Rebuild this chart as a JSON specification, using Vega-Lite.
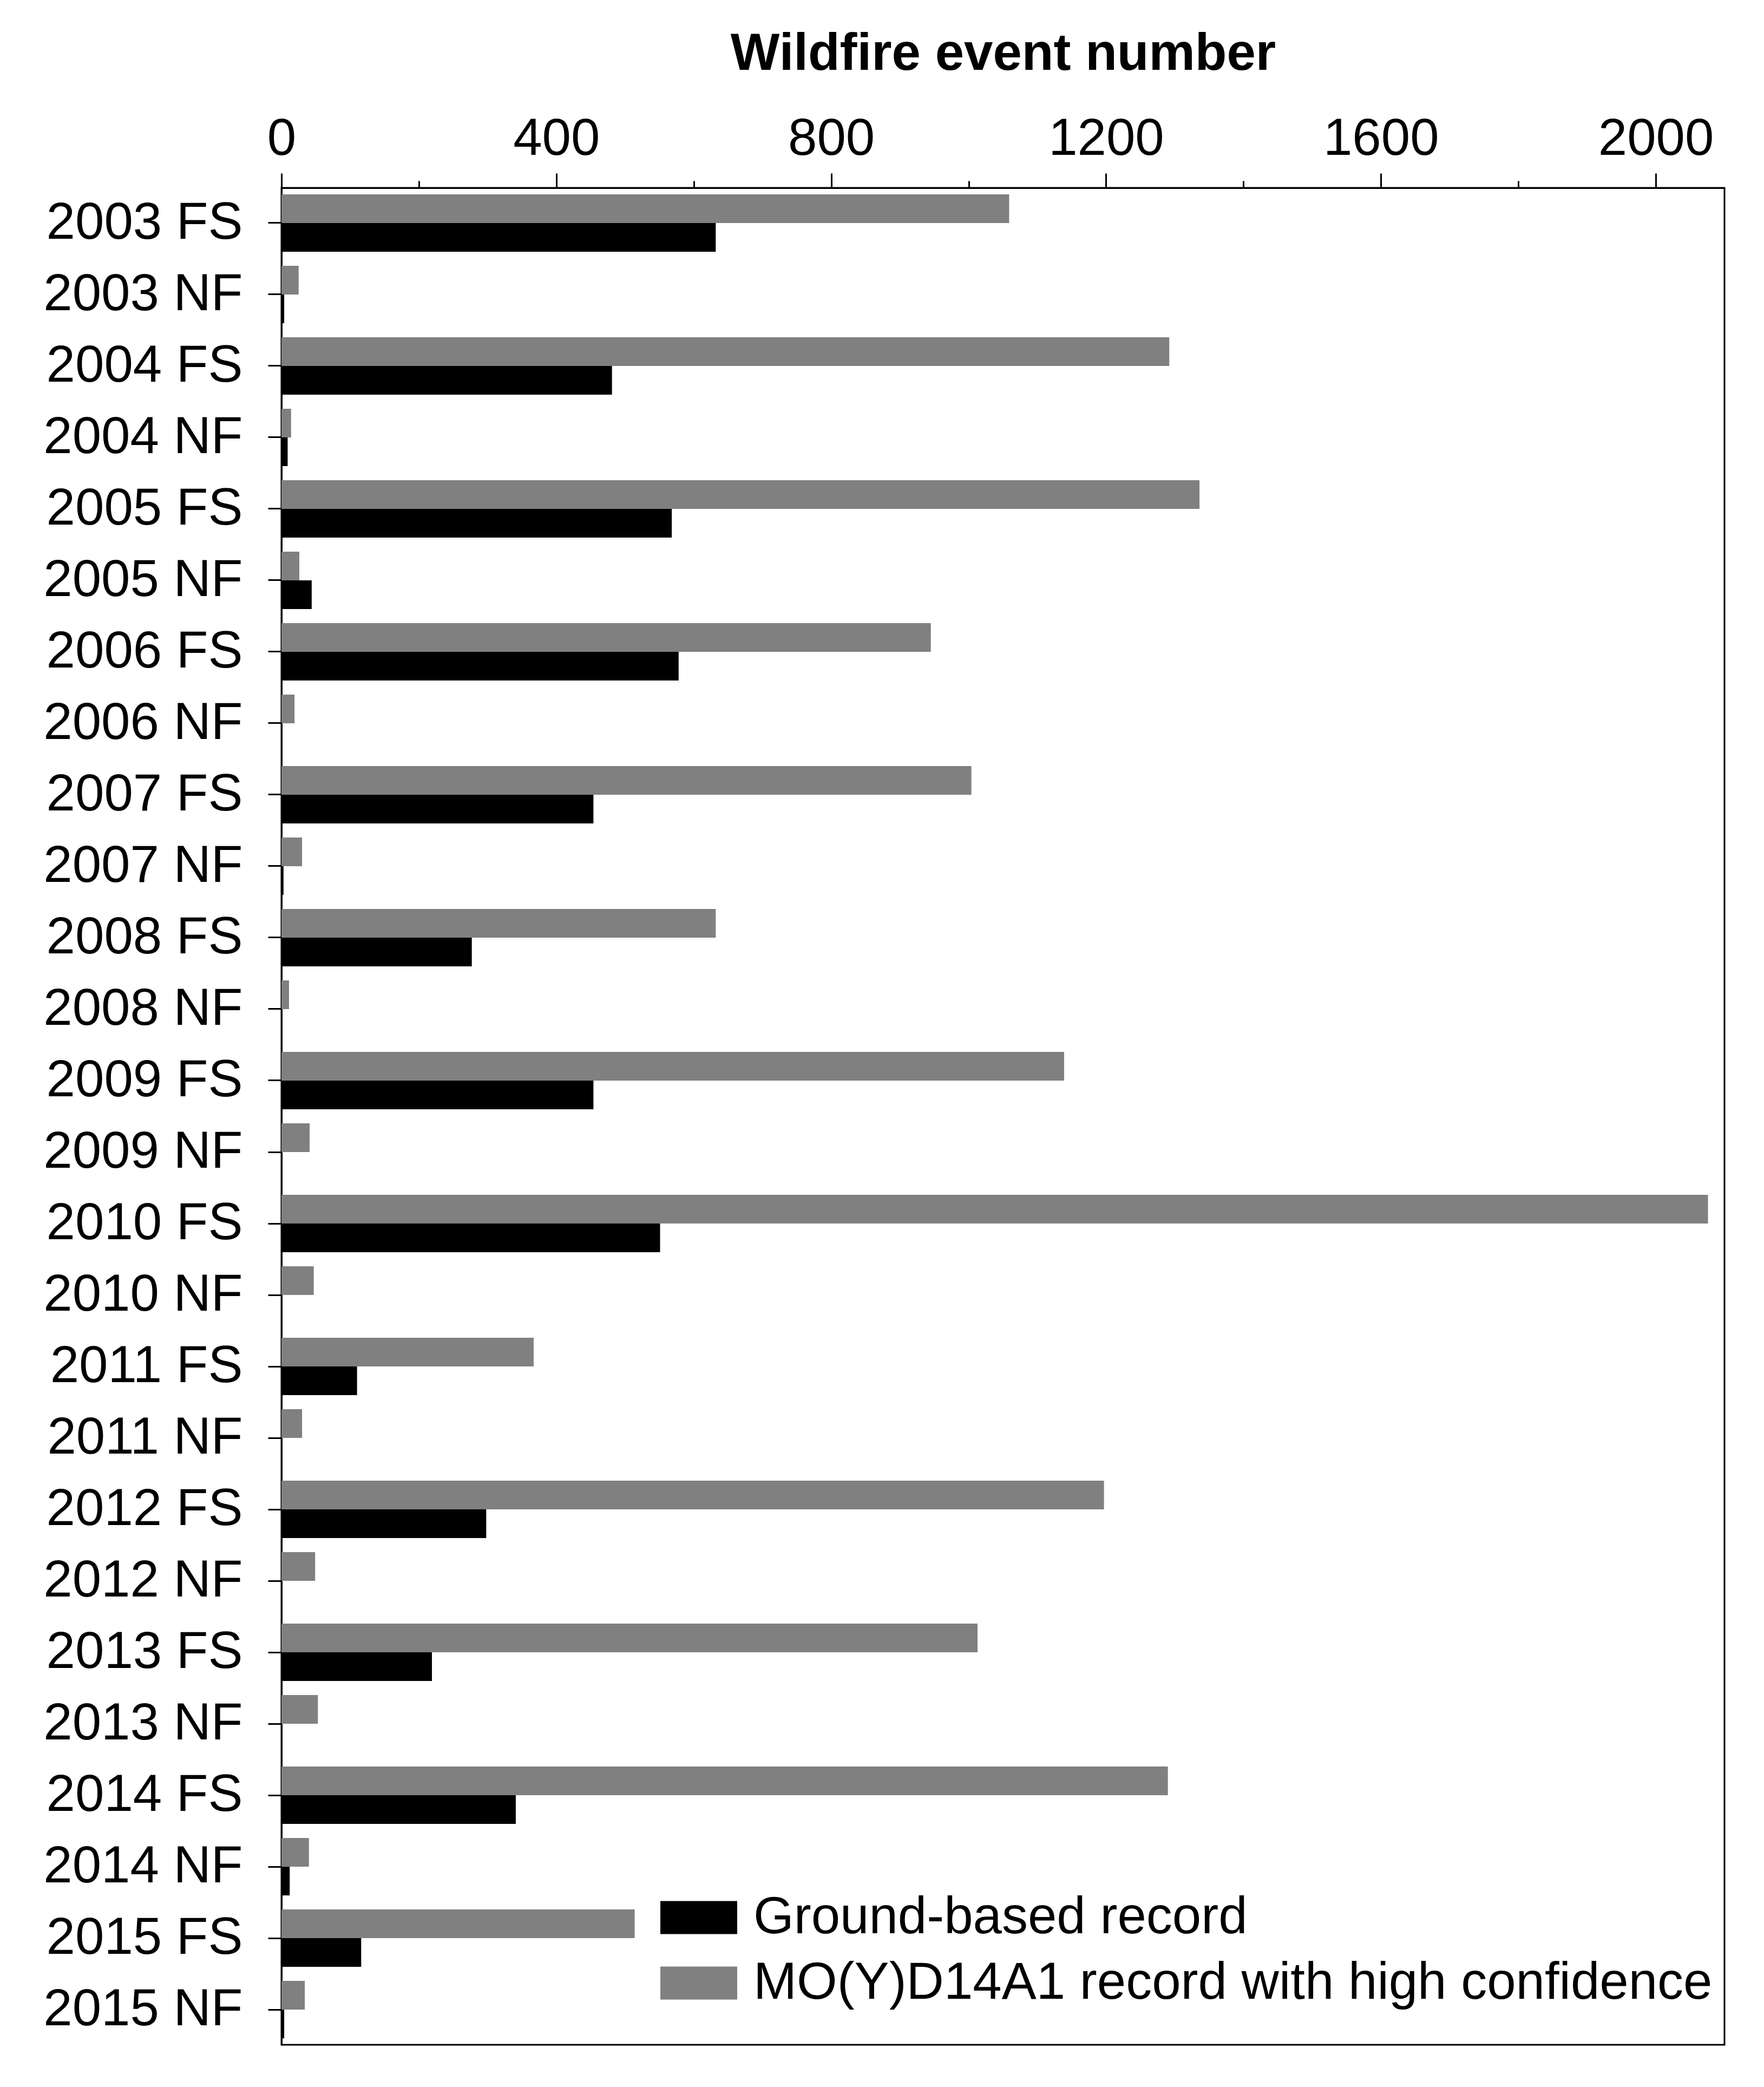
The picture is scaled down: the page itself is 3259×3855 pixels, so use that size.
{
  "$schema": "https://vega.github.io/schema/vega-lite/v6.json",
  "width": 2666,
  "height": 3430,
  "autosize": {"type": "none"},
  "padding": {"left": 520, "top": 347, "right": 73, "bottom": 78},
  "background": "white",
  "config": {
    "font": "Liberation Sans",
    "view": {"stroke": "black", "strokeWidth": 3}
  },
  "data": {
    "values": [
      {"category": "2003 FS", "source": "MO(Y)D14A1 record with high confidence", "count": 1059},
      {"category": "2003 FS", "source": "Ground-based record", "count": 632},
      {"category": "2003 NF", "source": "MO(Y)D14A1 record with high confidence", "count": 25},
      {"category": "2003 NF", "source": "Ground-based record", "count": 4},
      {"category": "2004 FS", "source": "MO(Y)D14A1 record with high confidence", "count": 1292},
      {"category": "2004 FS", "source": "Ground-based record", "count": 481},
      {"category": "2004 NF", "source": "MO(Y)D14A1 record with high confidence", "count": 14},
      {"category": "2004 NF", "source": "Ground-based record", "count": 9},
      {"category": "2005 FS", "source": "MO(Y)D14A1 record with high confidence", "count": 1336},
      {"category": "2005 FS", "source": "Ground-based record", "count": 568},
      {"category": "2005 NF", "source": "MO(Y)D14A1 record with high confidence", "count": 26},
      {"category": "2005 NF", "source": "Ground-based record", "count": 44},
      {"category": "2006 FS", "source": "MO(Y)D14A1 record with high confidence", "count": 945},
      {"category": "2006 FS", "source": "Ground-based record", "count": 578},
      {"category": "2006 NF", "source": "MO(Y)D14A1 record with high confidence", "count": 19},
      {"category": "2006 NF", "source": "Ground-based record", "count": 0},
      {"category": "2007 FS", "source": "MO(Y)D14A1 record with high confidence", "count": 1004},
      {"category": "2007 FS", "source": "Ground-based record", "count": 454},
      {"category": "2007 NF", "source": "MO(Y)D14A1 record with high confidence", "count": 30},
      {"category": "2007 NF", "source": "Ground-based record", "count": 3},
      {"category": "2008 FS", "source": "MO(Y)D14A1 record with high confidence", "count": 632},
      {"category": "2008 FS", "source": "Ground-based record", "count": 277},
      {"category": "2008 NF", "source": "MO(Y)D14A1 record with high confidence", "count": 11},
      {"category": "2008 NF", "source": "Ground-based record", "count": 0},
      {"category": "2009 FS", "source": "MO(Y)D14A1 record with high confidence", "count": 1139},
      {"category": "2009 FS", "source": "Ground-based record", "count": 454},
      {"category": "2009 NF", "source": "MO(Y)D14A1 record with high confidence", "count": 41},
      {"category": "2009 NF", "source": "Ground-based record", "count": 0},
      {"category": "2010 FS", "source": "MO(Y)D14A1 record with high confidence", "count": 2076},
      {"category": "2010 FS", "source": "Ground-based record", "count": 551},
      {"category": "2010 NF", "source": "MO(Y)D14A1 record with high confidence", "count": 47},
      {"category": "2010 NF", "source": "Ground-based record", "count": 0},
      {"category": "2011 FS", "source": "MO(Y)D14A1 record with high confidence", "count": 367},
      {"category": "2011 FS", "source": "Ground-based record", "count": 110},
      {"category": "2011 NF", "source": "MO(Y)D14A1 record with high confidence", "count": 30},
      {"category": "2011 NF", "source": "Ground-based record", "count": 0},
      {"category": "2012 FS", "source": "MO(Y)D14A1 record with high confidence", "count": 1197},
      {"category": "2012 FS", "source": "Ground-based record", "count": 298},
      {"category": "2012 NF", "source": "MO(Y)D14A1 record with high confidence", "count": 49},
      {"category": "2012 NF", "source": "Ground-based record", "count": 0},
      {"category": "2013 FS", "source": "MO(Y)D14A1 record with high confidence", "count": 1013},
      {"category": "2013 FS", "source": "Ground-based record", "count": 219},
      {"category": "2013 NF", "source": "MO(Y)D14A1 record with high confidence", "count": 53},
      {"category": "2013 NF", "source": "Ground-based record", "count": 0},
      {"category": "2014 FS", "source": "MO(Y)D14A1 record with high confidence", "count": 1290},
      {"category": "2014 FS", "source": "Ground-based record", "count": 341},
      {"category": "2014 NF", "source": "MO(Y)D14A1 record with high confidence", "count": 40},
      {"category": "2014 NF", "source": "Ground-based record", "count": 12},
      {"category": "2015 FS", "source": "MO(Y)D14A1 record with high confidence", "count": 514},
      {"category": "2015 FS", "source": "Ground-based record", "count": 116},
      {"category": "2015 NF", "source": "MO(Y)D14A1 record with high confidence", "count": 34},
      {"category": "2015 NF", "source": "Ground-based record", "count": 4}
    ]
  },
  "mark": {"type": "bar"},
  "encoding": {
    "y": {
      "field": "category",
      "type": "nominal",
      "sort": null,
      "scale": {"paddingInner": 0.197, "paddingOuter": 0.09},
      "axis": {
        "title": null,
        "labelFontSize": 96,
        "labelColor": "black",
        "labelLimit": 1000,
        "labelPadding": 47,
        "tickSize": 25,
        "tickWidth": 3,
        "tickColor": "black",
        "domainColor": "black",
        "domainWidth": 3
      }
    },
    "yOffset": {
      "field": "source",
      "type": "nominal",
      "sort": ["MO(Y)D14A1 record with high confidence", "Ground-based record"],
      "scale": {"paddingInner": 0, "paddingOuter": 0}
    },
    "x": {
      "field": "count",
      "type": "quantitative",
      "scale": {"domain": [0, 2100], "nice": false},
      "axis": {
        "orient": "top",
        "title": "Wildfire event number",
        "titleFontSize": 96,
        "titleFontWeight": "bold",
        "titleColor": "black",
        "titlePadding": 60,
        "values": [0, 200, 400, 600, 800, 1000, 1200, 1400, 1600, 1800, 2000],
        "format": "d",
        "labelExpr": "datum.value % 400 === 0 ? datum.label : ''",
        "labelFontSize": 96,
        "labelColor": "black",
        "labelLimit": 1000,
        "labelFlush": false,
        "labelOverlap": false,
        "labelPadding": 15,
        "tickSize": {"condition": {"test": "datum.value % 400 === 0", "value": 27}, "value": 13},
        "tickWidth": 3,
        "tickColor": "black",
        "grid": false,
        "domainColor": "black",
        "domainWidth": 3
      }
    },
    "color": {
      "field": "source",
      "type": "nominal",
      "sort": ["Ground-based record", "MO(Y)D14A1 record with high confidence"],
      "scale": {
        "domain": ["Ground-based record", "MO(Y)D14A1 record with high confidence"],
        "range": ["#000000", "#808080"]
      },
      "legend": {
        "title": null,
        "orient": "none",
        "legendX": 700,
        "legendY": 3124,
        "labelFontSize": 96,
        "labelColor": "black",
        "labelLimit": 3000,
        "labelOffset": 30,
        "symbolType": "M-1,-0.43H1V0.43H-1Z",
        "symbolSize": 20164,
        "symbolStrokeWidth": 0,
        "symbolOpacity": 1,
        "rowPadding": 2
      }
    }
  }
}
